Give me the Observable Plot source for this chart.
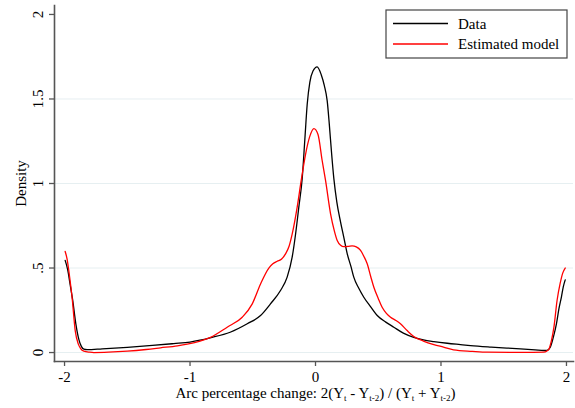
<!DOCTYPE html>
<html><head><meta charset="utf-8">
<script src="https://cdn.jsdelivr.net/npm/d3@7"></script>
<script src="https://cdn.jsdelivr.net/npm/@observablehq/plot@0.6"></script>
<style>body{margin:0;background:#fff}</style>
</head><body><div id="chart"></div>
<script>
// ---- data ----
const dataX = [-1.995,-1.975,-1.955,-1.935,-1.91,-1.885,-1.865,-1.846,-1.82,-1.7,-1.5,-1.3,-1.13,-1.0,-0.92,-0.84,-0.68,-0.544,-0.438,-0.359,-0.279,-0.226,-0.186,-0.159,-0.133,-0.106,-0.085,-0.066,-0.045,-0.02,0.013,0.045,0.07,0.093,0.11,0.128,0.146,0.17,0.199,0.226,0.253,0.284,0.305,0.345,0.385,0.44,0.492,0.56,0.624,0.7,0.783,0.86,0.943,1.05,1.155,1.235,1.4,1.633,1.75,1.82,1.845,1.87,1.895,1.92,1.94,1.96,1.975,1.99];
const dataY = [0.545,0.49,0.40,0.31,0.17,0.075,0.035,0.02,0.017,0.022,0.031,0.042,0.053,0.062,0.073,0.087,0.12,0.17,0.219,0.288,0.367,0.446,0.564,0.70,0.86,1.03,1.26,1.47,1.6,1.665,1.69,1.645,1.58,1.49,1.35,1.18,1.03,0.89,0.775,0.68,0.584,0.505,0.446,0.38,0.327,0.27,0.219,0.18,0.15,0.115,0.09,0.075,0.065,0.055,0.047,0.041,0.032,0.022,0.016,0.012,0.013,0.03,0.09,0.17,0.26,0.33,0.39,0.43];
const modelX = [-1.995,-1.98,-1.96,-1.94,-1.915,-1.89,-1.873,-1.846,-1.8,-1.767,-1.65,-1.5,-1.35,-1.235,-1.1,-1.022,-0.92,-0.837,-0.704,-0.584,-0.504,-0.438,-0.372,-0.34,-0.305,-0.27,-0.239,-0.21,-0.186,-0.146,-0.114,-0.08,-0.045,-0.013,0.02,0.053,0.08,0.12,0.15,0.173,0.2,0.226,0.26,0.292,0.325,0.359,0.385,0.412,0.44,0.465,0.5,0.531,0.565,0.598,0.64,0.677,0.73,0.783,0.86,0.943,1.02,1.1,1.25,1.37,1.6,1.82,1.845,1.86,1.88,1.9,1.925,1.95,1.97,1.99];
const modelY = [0.598,0.554,0.45,0.327,0.13,0.05,0.025,0.008,0.002,0.0,0.002,0.008,0.018,0.028,0.04,0.05,0.068,0.09,0.15,0.209,0.288,0.406,0.50,0.525,0.54,0.553,0.584,0.63,0.70,0.86,1.018,1.17,1.28,1.325,1.29,1.136,1.018,0.821,0.72,0.663,0.635,0.627,0.628,0.631,0.625,0.604,0.57,0.525,0.45,0.386,0.32,0.268,0.232,0.209,0.19,0.17,0.13,0.095,0.068,0.047,0.032,0.016,0.007,0.002,0.001,0.002,0.01,0.02,0.07,0.15,0.308,0.41,0.47,0.50];
const seriesNames = ["Data", "Estimated model"];
const seriesColors = ["#000000", "#ff0000"];
const xTicks = [-2, -1, 0, 1, 2];
const xTickLabels = ["-2", "-1", "0", "1", "2"];
const yTicks = [0, 0.5, 1, 1.5, 2];
const yTickLabels = ["0", ".5", "1", "1.5", "2"];
const gridTicks = [0, 0.5, 1, 1.5];
const yLabel = "Density";
// [text, isSubscript]
const xLabelParts = [["Arc percentage change: 2(Y",0],["t",1],[" - Y",0],["t-2",1],[") / (Y",0],["t",1],[" + Y",0],["t-2",1],[")",0]];

const rows = [
  ...dataX.map((x, i) => ({x, y: dataY[i], series: seriesNames[0]})),
  ...modelX.map((x, i) => ({x, y: modelY[i], series: seriesNames[1]}))
];

const FONT = "'Liberation Serif', 'Times New Roman', serif";

function legendMark(index, scales, values, dim) {
  const g = d3.create("svg:g").attr("text-anchor", "start");
  const right = dim.width - 8, left = right - 181, top = 10, bottom = 58;
  g.append("rect").attr("x", left).attr("y", top).attr("width", right - left).attr("height", bottom - top)
    .attr("fill", "#fff").attr("stroke", "#444").attr("stroke-width", 1.2);
  seriesNames.forEach((name, i) => {
    const cy = 23.5 + i * 20.5;
    g.append("line").attr("x1", left + 7).attr("x2", left + 62).attr("y1", cy).attr("y2", cy)
      .attr("stroke", seriesColors[i]).attr("stroke-width", 1.3);
    g.append("text").attr("x", left + 72).attr("y", cy + 5).attr("font-family", FONT)
      .attr("font-size", 15).attr("fill", "#000").attr("text-anchor", "start").text(name);
  });
  return g.node();
}

function xLabelMark(index, scales, values, dim) {
  const cx = dim.marginLeft + (dim.width - dim.marginLeft - dim.marginRight) / 2 + 2;
  const t = d3.create("svg:text").attr("x", cx).attr("y", dim.height - 10)
    .attr("text-anchor", "middle").attr("font-family", FONT).attr("font-size", 15).attr("fill", "#000");
  xLabelParts.forEach(([s, sub]) => {
    const ts = t.append("tspan").text(s);
    if (sub) ts.attr("font-size", 9).attr("dy", 3);
    else ts.attr("dy", t.node().childNodes.length > 1 ? -3 : 0);
  });
  return t.node();
}

const plot = Plot.plot({
  width: 575, height: 408,
  marginLeft: 54, marginRight: 2, marginTop: 5, marginBottom: 47,
  x: {domain: [-2.08, 2.056]},
  y: {domain: [-0.053, 2.053]},
  color: {domain: seriesNames, range: seriesColors},
  style: {fontFamily: FONT, fontSize: "15px", background: "#fff", color: "#000"},
  marks: [
    Plot.ruleY(gridTicks, {stroke: "#e6eff1", strokeWidth: 1}),
    Plot.axisX({ticks: xTicks, tickFormat: d => xTickLabels[xTicks.indexOf(d)], tickSize: 5, tickPadding: 5, stroke: "#555", strokeWidth: 1.3, label: null, fontSize: 15}),
    Plot.axisY({ticks: yTicks, tickFormat: d => yTickLabels[yTicks.indexOf(d)], tickSize: 5, tickPadding: 7, tickRotate: -90, stroke: "#555", strokeWidth: 1.3, label: null, fontSize: 15}),
    Plot.frame({anchor: "left", stroke: "#555", strokeWidth: 1.6}),
    Plot.frame({anchor: "bottom", stroke: "#555", strokeWidth: 1.6}),
    Plot.line(rows, {x: "x", y: "y", z: "series", stroke: "series", curve: "monotone-x", strokeWidth: 1.3}),
    Plot.text([yLabel], {frameAnchor: "left", dx: -29, rotate: -90, textAnchor: "middle", lineAnchor: "bottom", fontSize: 15, fill: "#000"}),
    xLabelMark,
    legendMark
  ]
});
document.getElementById("chart").appendChild(plot);
</script>
</body></html>
